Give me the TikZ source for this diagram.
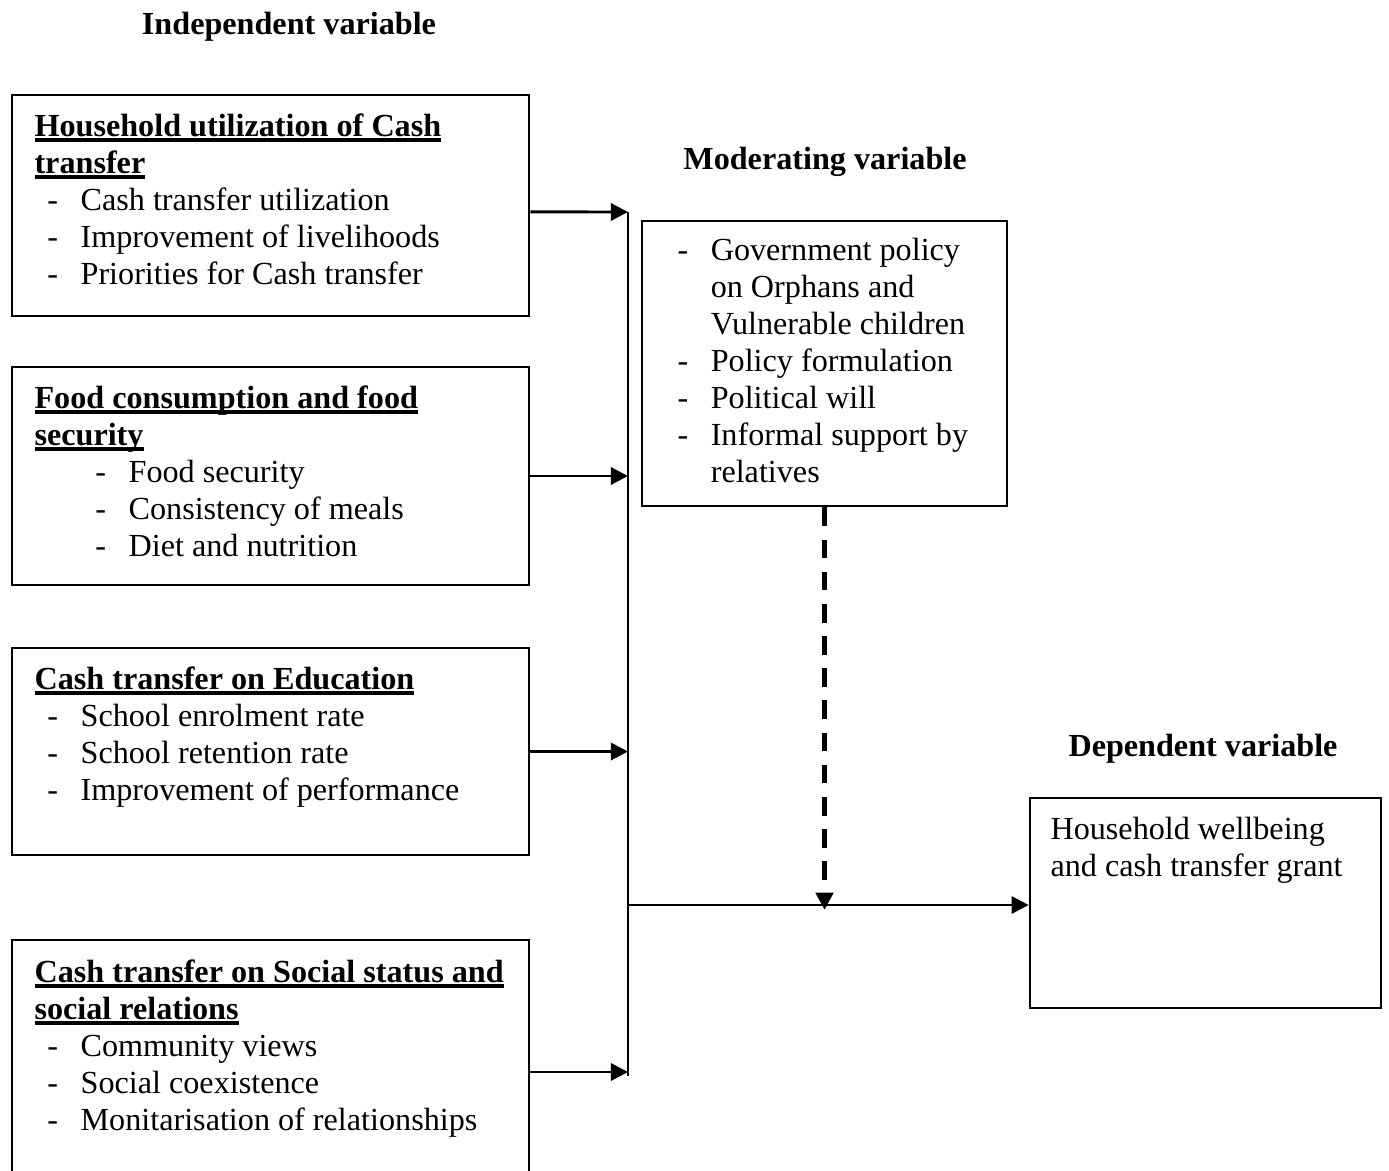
\documentclass[tikz,border=0pt]{standalone}
\usepackage{fontspec}
\setmainfont{Liberation Serif}
\usetikzlibrary{arrows.meta,fit}

\newcommand{\titleline}[1]{%
  \setbox0\hbox{\textbf{#1}}\rlap{\rule[-2pt]{\wd0}{1.2pt}}\box0}
\newcommand{\dashitem}[2][4.8pt]{\hspace*{#1}\makebox[12.4pt][l]{-}#2}
\newcommand{\wrapitem}[2][4.8pt]{\hspace*{\dimexpr#1+12.4pt\relax}#2}

\begin{document}
\begin{tikzpicture}[
  x=0.373pt, y=-0.373pt,
  box/.style={draw, line width=1pt, rectangle, inner sep=0pt},
  txt/.style={anchor=north west, align=left, inner sep=0pt,
              font=\fontsize{12}{13.8}\selectfont},
  heading/.style={inner sep=0pt, font=\fontsize{12}{13.8}\selectfont\bfseries},
  link/.style={line width=1.1pt},
  dashlink/.style={line width=1.7pt, dash pattern=on 7pt off 5pt},
  >={Triangle[length=6.4pt, width=6.4pt]}
]
\useasboundingbox (0,0) rectangle (1389,1170);

% ---- Headings ----
\node[heading] (indep) at (289,27) {Independent variable};
\node[heading] (moder) at (825,162) {Moderating variable};
\node[heading] (depend) at (1203,749) {Dependent variable};

% ---- Independent variables ----
\node[box, fit={(12,95) (529,316)}] (house) {};
\node[txt] (house-txt) at (34,113) {
  \titleline{Household utilization of Cash}\\
  \titleline{transfer}\\
  \dashitem{Cash transfer utilization}\\
  \dashitem{Improvement of livelihoods}\\
  \dashitem{Priorities for Cash transfer}
};

\node[box, fit={(12,367) (529,585)}] (food) {};
\node[txt] (food-txt) at (34,385) {
  \titleline{Food consumption and food}\\
  \titleline{security}\\
  \dashitem[22.7pt]{Food security}\\
  \dashitem[22.7pt]{Consistency of meals}\\
  \dashitem[22.7pt]{Diet and nutrition}
};

\node[box, fit={(12,648) (529,855)}] (edu) {};
\node[txt] (edu-txt) at (34,666) {
  \titleline{Cash transfer on Education}\\
  \dashitem{School enrolment rate}\\
  \dashitem{School retention rate}\\
  \dashitem{Improvement of performance}
};

\node[box, fit={(12,940) (529,1204)}] (social) {};
\node[txt] (social-txt) at (34,959) {
  \titleline{Cash transfer on Social status and}\\
  \titleline{social relations}\\
  \dashitem{Community views}\\
  \dashitem{Social coexistence}\\
  \dashitem{Monitarisation of relationships}
};

% ---- Moderating variable ----
\node[box, fit={(642,221) (1007,506)}] (policy) {};
\node[txt] (policy-txt) at (677,238) {
  \dashitem[0pt]{Government policy}\\
  \wrapitem[0pt]{on Orphans and}\\
  \wrapitem[0pt]{Vulnerable children}\\
  \dashitem[0pt]{Policy formulation}\\
  \dashitem[0pt]{Political will}\\
  \dashitem[0pt]{Informal support by}\\
  \wrapitem[0pt]{relatives}
};

% ---- Dependent variable ----
\node[box, fit={(1030,798) (1381,1008)}] (wellbeing) {};
\node[txt] (wellbeing-txt) at (1050,817) {
  Household wellbeing\\
  and cash transfer grant
};

% ---- Edges ----
\coordinate (bustop) at (628,212);
\coordinate (busbot) at (628,1076);
\coordinate (join) at (628,905);
\draw[link] (bustop) -- (busbot);

\draw[link, ->] ([yshift=-2.4pt]house.east) -- (bustop);
\draw[link, ->] (food.east) -- (food.east -| bustop);
\draw[link, ->] (edu.east) -- (edu.east -| bustop);
\draw[link, ->] (social.east) -- (social.east -| bustop);

\draw[link, ->] (join) -- (join -| wellbeing.west);
\draw[dashlink, ->, shorten >=-1.8pt] (policy.south) -- (policy.south |- join);

\end{tikzpicture}
\end{document}
